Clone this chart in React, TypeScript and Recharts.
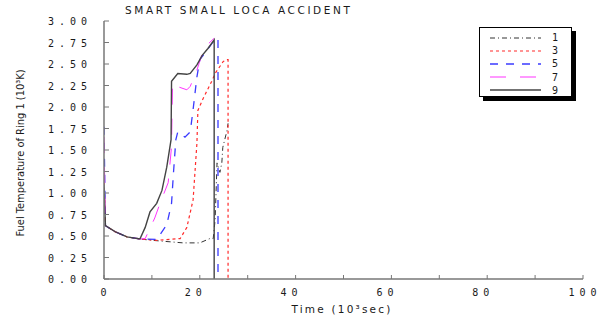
import React from 'react';
import { LineChart, Line, XAxis, YAxis, Legend } from 'recharts';

// time in 10^3 sec, fuel temperature in 10^3 K
const time1 = [0, 0.3, 2.3, 4.8, 7.5, 10, 16.5, 20, 22.1, 22.8, 23.2, 23.6, 24.2, 24.6, 24.8, 25.7, 25.9];
const temp1 = [1.0, 0.62, 0.55, 0.49, 0.465, 0.45, 0.42, 0.42, 0.47, 0.47, 0.69, 1.35, 1.24, 1.35, 1.53, 1.73, 1.81];

const time3 = [0, 0.3, 2.3, 4.8, 7.5, 11, 15.9, 17.3, 18.6, 19.4, 19.6, 20.7, 22.5, 23.2, 24.9, 25.7, 25.9, 25.9];
const temp3 = [1.2, 0.62, 0.55, 0.49, 0.465, 0.45, 0.47, 0.6, 0.92, 1.58, 1.96, 2.1, 2.3, 2.39, 2.53, 2.55, 2.55, 0];

const time5 = [0, 0.3, 2.3, 4.8, 7.5, 11, 13.1, 14.1, 14.5, 15, 15.4, 16.9, 18, 18.6, 19.4, 20, 21.5, 22.8, 23.8, 23.8];
const temp5 = [1.77, 0.62, 0.55, 0.49, 0.465, 0.46, 0.63, 0.88, 1.23, 1.62, 1.71, 1.65, 1.71, 1.97, 2.35, 2.55, 2.66, 2.76, 2.8, 0];

const time7 = [0, 0.3, 2.3, 4.8, 7.5, 8.6, 9.6, 10.6, 11.7, 13.4, 14.1, 14.3, 15.2, 17.3, 18, 19.4, 20.5, 21.5, 23];
const temp7 = [1.65, 0.62, 0.55, 0.49, 0.465, 0.47, 0.59, 0.71, 0.88, 1.12, 1.54, 2.28, 2.24, 2.2, 2.24, 2.43, 2.62, 2.72, 2.8];

const time9 = [0, 0.3, 2.3, 4.8, 7.5, 8.6, 9.6, 11, 12.1, 13.1, 14, 14.1, 15.4, 17.3, 18, 19.4, 20.5, 21.7, 23, 23];
const temp9 = [1.1, 0.62, 0.55, 0.49, 0.465, 0.6, 0.78, 0.88, 1.03, 1.3, 1.62, 2.3, 2.39, 2.38, 2.39, 2.49, 2.6, 2.68, 2.78, 0];

const yTicks = [0, 0.25, 0.5, 0.75, 1, 1.25, 1.5, 1.75, 2, 2.25, 2.5, 2.75, 3];
const xTicks = [0, 10, 20, 30, 40, 50, 60, 70, 80, 90, 100];

const toPoints = (t: number[], v: number[]) => t.map((x, i) => ({ t: x, v: v[i] }));

const series = [
  { name: '1', data: toPoints(time1, temp1), color: '#333333', dash: '5 3 1 3', width: 1 },
  { name: '3', data: toPoints(time3, temp3), color: '#ff2a2a', dash: '3 3', width: 1.2 },
  { name: '5', data: toPoints(time5, temp5), color: '#3b3bff', dash: '8 8', width: 1.3 },
  { name: '7', data: toPoints(time7, temp7), color: '#ff33ff', dash: '16 14', width: 1 },
  { name: '9', data: toPoints(time9, temp9), color: '#444444', dash: undefined, width: 1.4 },
];

const FRAME = '#777777';
const TEXT = '#1a1a1a';
const mono = '"DejaVu Sans Mono", monospace';

const LeftTick = ({ x, y, payload }: any) => (
  <g>
    <line x1={x} x2={x + 5} y1={y} y2={y} stroke={FRAME} />
    <text x={x - 12} y={y} dy={4} textAnchor="end" fontFamily={mono} fontSize={10} letterSpacing={5} fill={TEXT}>
      {payload.value.toFixed(2)}
    </text>
  </g>
);

const RightTick = ({ x, y }: any) => (
  <line x1={x} x2={x - 6} y1={y} y2={y} stroke={FRAME} />
);

const BottomTick = ({ x, y, payload }: any) => {
  const label = String(payload.value);
  const shift = label.length === 2 ? -4 : 2;
  return (
    <g>
      <line x1={x} x2={x} y1={y} y2={y - 4} stroke={FRAME} />
      {payload.value % 20 === 0 && (
        <text x={x + shift} y={y + 17} textAnchor="middle" fontFamily={mono} fontSize={10} letterSpacing={5} fill={TEXT}>
          {label}
        </text>
      )}
    </g>
  );
};

const TopTick = ({ x, y }: any) => (
  <line x1={x} x2={x} y1={y} y2={y + 4} stroke={FRAME} />
);

const yLabel = () => (
  <text
    transform="translate(24,153) rotate(-90)"
    textAnchor="middle"
    fontFamily='"Liberation Sans Narrow", "DejaVu Sans Condensed", sans-serif'
    fontSize={11}
    fill={TEXT}
  >
    Fuel Temperature of Ring 1 (10³K)
  </text>
);

const xLabel = () => (
  <text x={342} y={313} textAnchor="middle" fontFamily='"DejaVu Sans", sans-serif' fontSize={10.5} letterSpacing={2.2} fill={TEXT}>
    Time  (10³sec)
  </text>
);

const LegendBox = () => (
  <div
    style={{
      width: 91,
      height: 65,
      background: '#fff',
      border: '1px solid #000',
      boxShadow: '4px 4px 0 #000',
      paddingTop: 3,
      boxSizing: 'content-box',
    }}
  >
    {series.map((s) => (
      <div key={s.name} style={{ display: 'flex', alignItems: 'center', height: 13.2 }}>
        <svg width={62} height={6} style={{ marginLeft: 10 }}>
          <line x1={0} x2={51} y1={3} y2={3} stroke={s.color} strokeWidth={s.width} strokeDasharray={s.dash} />
        </svg>
        <span style={{ fontFamily: mono, fontSize: 10, color: TEXT }}>{s.name}</span>
      </div>
    ))}
  </div>
);

export default function App() {
  return (
    <div style={{ position: 'absolute', left: 0, top: 0, width: 608, height: 320, background: '#fff' }}>
      <div
        style={{
          position: 'absolute',
          left: 125,
          top: 4,
          fontFamily: '"DejaVu Sans", sans-serif',
          fontSize: 10.5,
          letterSpacing: 2.6,
          color: TEXT,
          whiteSpace: 'nowrap',
        }}
      >
        SMART SMALL LOCA ACCIDENT
      </div>
      <LineChart width={608} height={320} margin={{ top: 21, right: 25, bottom: 0, left: 0 }}>
        <XAxis
          xAxisId="b"
          dataKey="t"
          type="number"
          domain={[0, 100]}
          ticks={xTicks}
          interval={0}
          height={41}
          tickSize={0}
          tickMargin={0}
          tick={<BottomTick />}
          axisLine={{ stroke: FRAME, strokeWidth: 1.5 }}
          label={{ content: xLabel }}
          allowDataOverflow
        />
        <XAxis
          xAxisId="t"
          orientation="top"
          dataKey="t"
          type="number"
          domain={[0, 100]}
          ticks={xTicks}
          interval={0}
          height={0}
          tickSize={0}
          tickMargin={0}
          tick={<TopTick />}
          axisLine={{ stroke: FRAME, strokeWidth: 1.5 }}
        />
        <YAxis
          yAxisId="l"
          type="number"
          domain={[0, 3]}
          ticks={yTicks}
          interval={0}
          width={104}
          tickSize={0}
          tickMargin={0}
          tick={<LeftTick />}
          axisLine={{ stroke: FRAME, strokeWidth: 1.5 }}
          label={{ content: yLabel }}
        />
        <YAxis
          yAxisId="r"
          orientation="right"
          type="number"
          domain={[0, 3]}
          ticks={yTicks}
          interval={0}
          width={0}
          tickSize={0}
          tickMargin={0}
          tick={<RightTick />}
          axisLine={{ stroke: FRAME, strokeWidth: 1.5 }}
        />
        <Legend
          layout="vertical"
          align="center"
          verticalAlign="middle"
          wrapperStyle={{ left: 479, top: 27, width: 'auto' }}
          content={<LegendBox />}
        />
        {series.map((s) => (
          <Line
            key={s.name}
            xAxisId="b"
            yAxisId="l"
            data={s.data}
            dataKey="v"
            type="linear"
            stroke={s.color}
            strokeWidth={s.width}
            strokeDasharray={s.dash}
            dot={false}
            isAnimationActive={false}
          />
        ))}
      </LineChart>
    </div>
  );
}
